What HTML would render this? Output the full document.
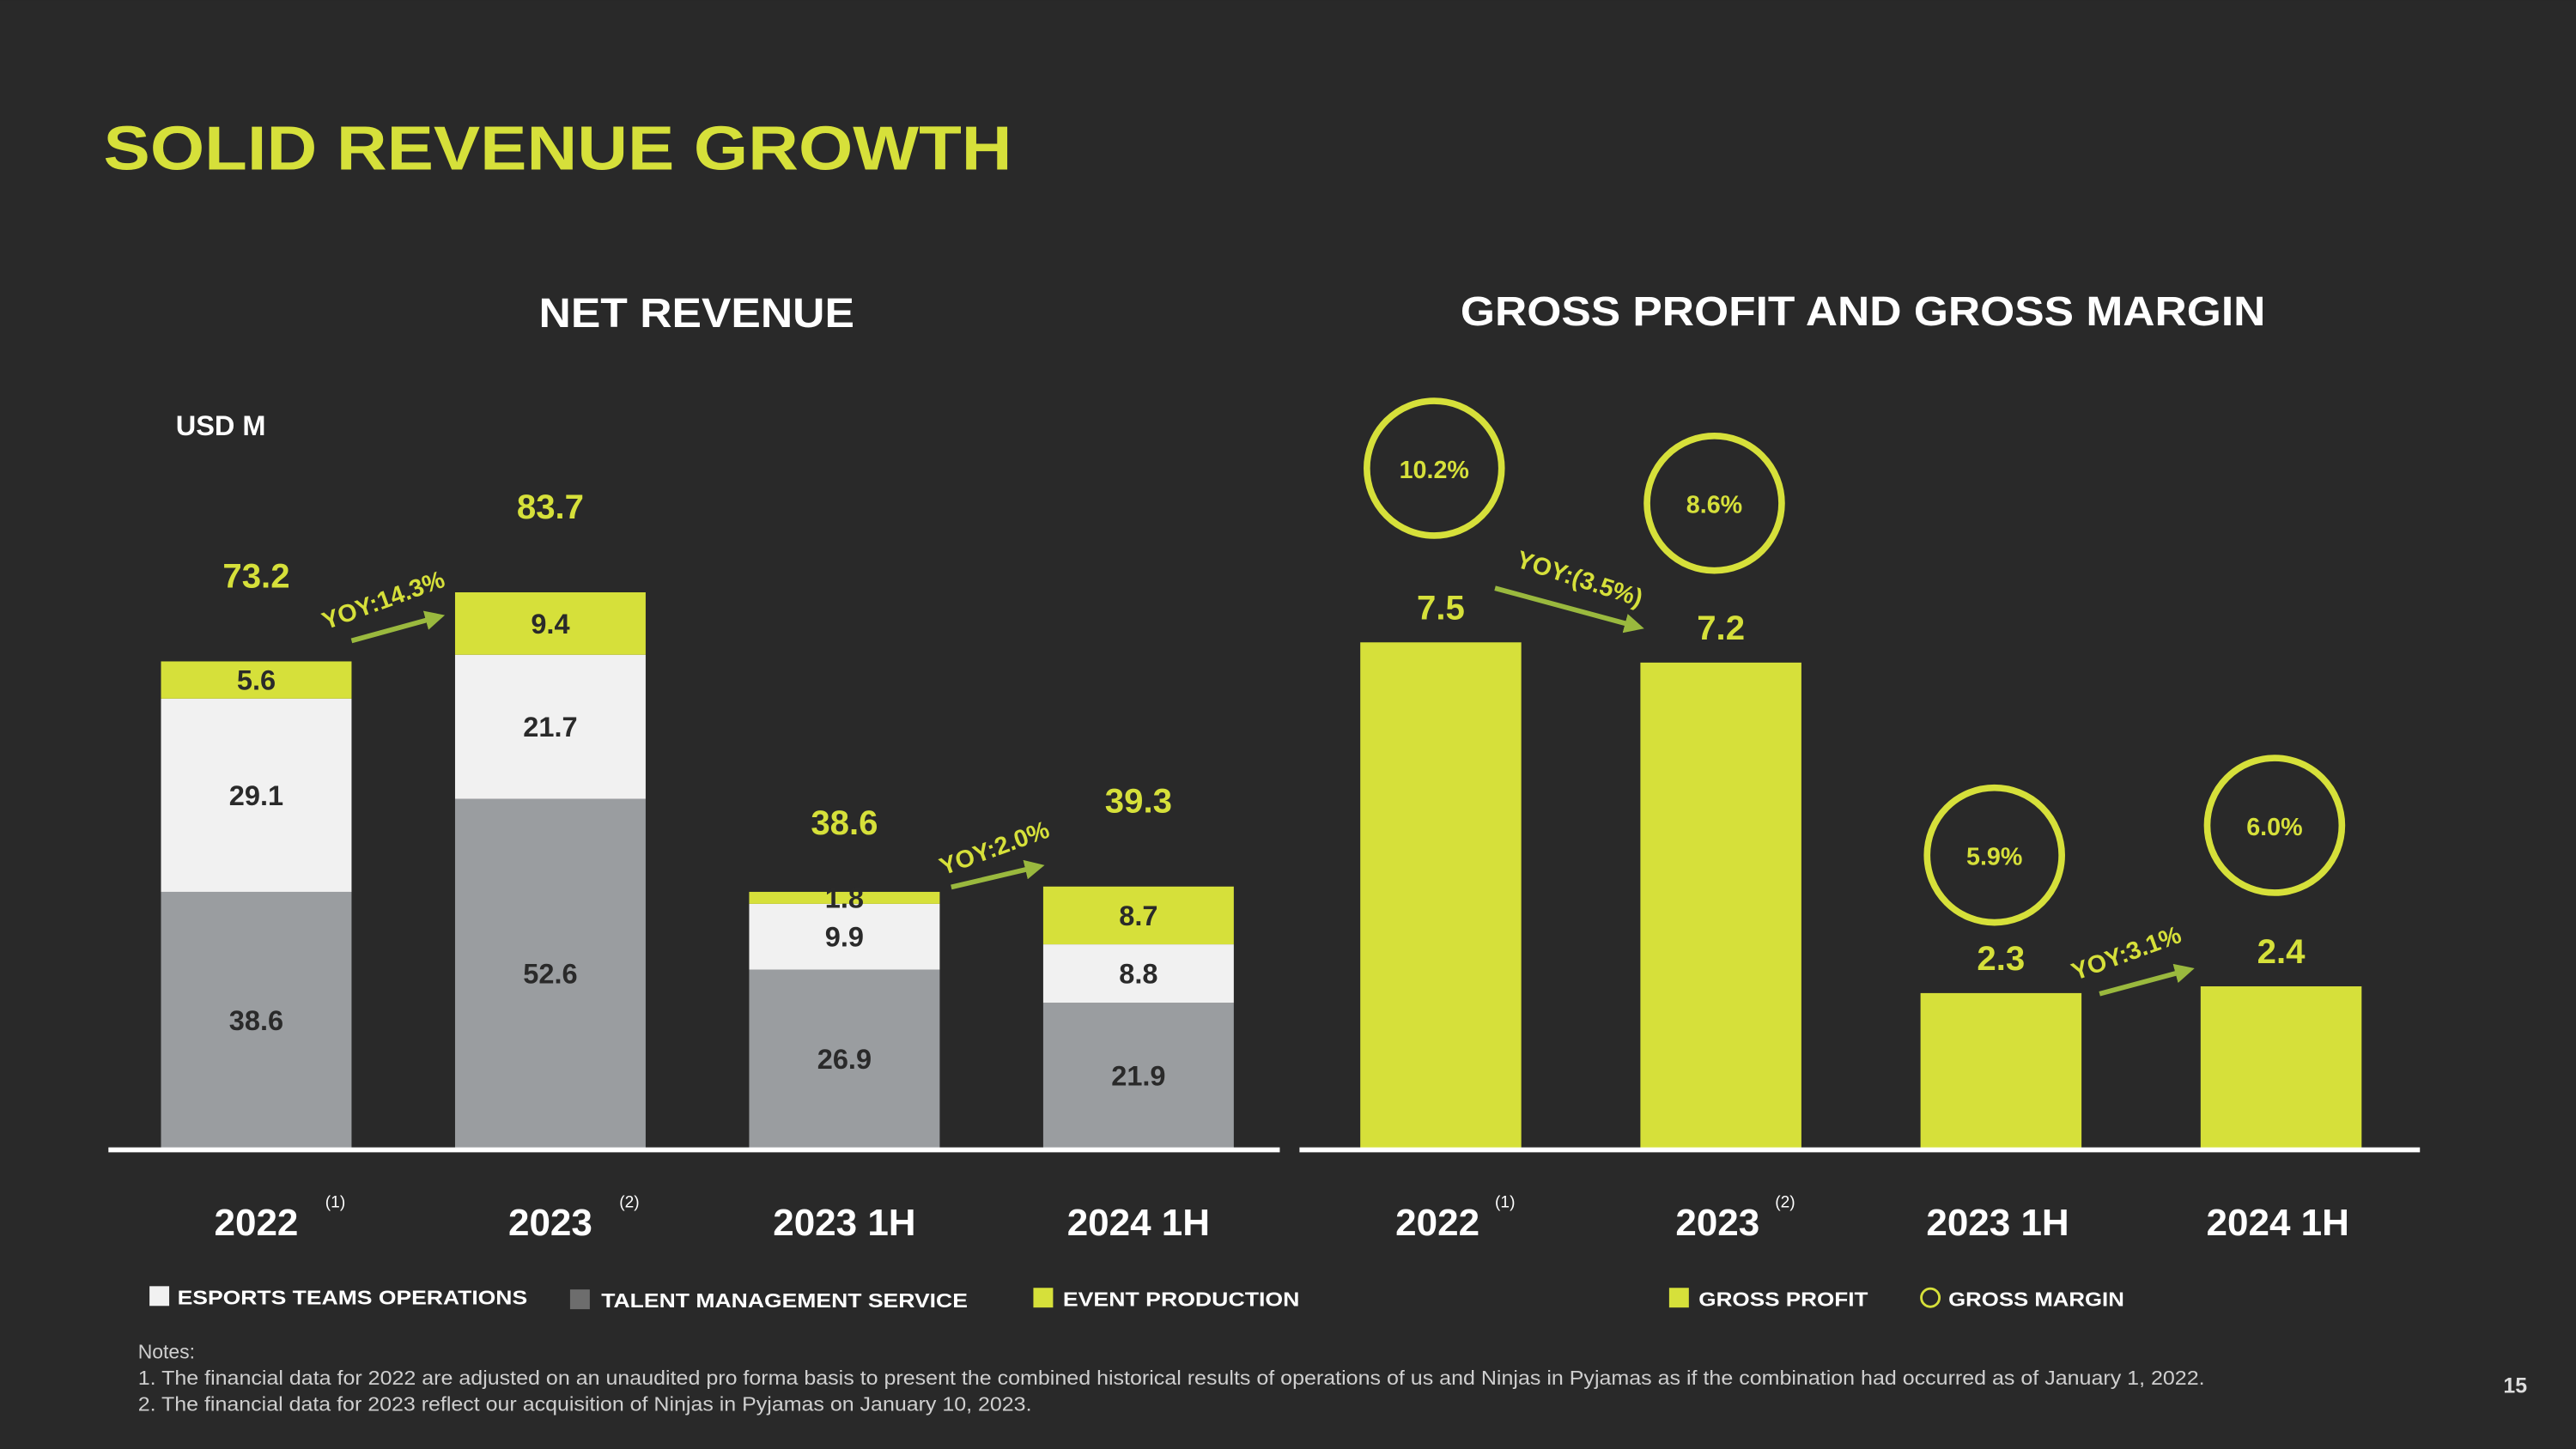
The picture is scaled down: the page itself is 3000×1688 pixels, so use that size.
<!DOCTYPE html>
<html><head><meta charset="utf-8"><style>
html,body{margin:0;padding:0;background:#292929;}
svg{display:block;font-family:"Liberation Sans",sans-serif;}
</style></head><body>
<svg id="s" width="3000" height="1688" viewBox="0 0 1568 882" xmlns="http://www.w3.org/2000/svg">
<rect width="1568" height="882" fill="#292929"/>
<text x="63" y="103" font-size="38" font-weight="bold" fill="#d6e03a" textLength="553" lengthAdjust="spacingAndGlyphs">SOLID REVENUE GROWTH</text>
<text x="328" y="199" font-size="25" font-weight="bold" fill="#fff" textLength="192" lengthAdjust="spacingAndGlyphs">NET REVENUE</text>
<text x="889" y="198" font-size="25" font-weight="bold" fill="#fff" textLength="490" lengthAdjust="spacingAndGlyphs">GROSS PROFIT AND GROSS MARGIN</text>
<text x="107" y="265" font-size="17" font-weight="bold" fill="#fff">USD M</text>
<g id="left"></g><g id="right"></g>
<line x1="66" y1="700" x2="779" y2="700" stroke="#fff" stroke-width="3"/>
<line x1="791" y1="700" x2="1473" y2="700" stroke="#fff" stroke-width="3"/>
<g font-size="12" fill="#fff" font-weight="bold">
<rect x="91" y="783" width="12" height="12" fill="#f1f1f1"/><text x="108" y="794" textLength="213" lengthAdjust="spacingAndGlyphs">ESPORTS TEAMS OPERATIONS</text>
<rect x="347" y="785" width="12" height="12" fill="#6d6d6d"/><text x="366" y="796" textLength="223" lengthAdjust="spacingAndGlyphs">TALENT MANAGEMENT SERVICE</text>
<rect x="629" y="784" width="12" height="12" fill="#d6e03a"/><text x="647" y="795" textLength="144" lengthAdjust="spacingAndGlyphs">EVENT PRODUCTION</text>
<rect x="1016" y="784" width="12" height="12" fill="#d6e03a"/><text x="1034" y="795" textLength="103" lengthAdjust="spacingAndGlyphs">GROSS PROFIT</text>
<circle cx="1175" cy="790" r="5.5" fill="none" stroke="#d6e03a" stroke-width="1.5"/><text x="1186" y="795" textLength="107" lengthAdjust="spacingAndGlyphs">GROSS MARGIN</text>
</g>
<g font-size="12" fill="#cfcfcf">
<text x="84" y="827">Notes:</text>
<text x="84" y="843" textLength="1258" lengthAdjust="spacingAndGlyphs">1. The financial data for 2022 are adjusted on an unaudited pro forma basis to present the combined historical results of operations of us and Ninjas in Pyjamas as if the combination had occurred as of January 1, 2022.</text>
<text x="84" y="859" textLength="544" lengthAdjust="spacingAndGlyphs">2. The financial data for 2023 reflect our acquisition of Ninjas in Pyjamas on January 10, 2023.</text>
</g>
<text x="1531" y="848" font-size="13" font-weight="bold" fill="#ddd" text-anchor="middle">15</text>
</svg>
<script>
const categories=["2022","2023","2023 1H","2024 1H"];
const catNotes=["(1)","(2)","",""];
const talent=[38.6,52.6,26.9,21.9];
const esports=[29.1,21.7,9.9,8.8];
const events=[5.6,9.4,1.8,8.7];
const totals=[73.2,83.7,38.6,39.3];
const grossProfit=[7.5,7.2,2.3,2.4];
const grossMargin=["10.2%","8.6%","5.9%","6.0%"];
const yoyLeft=["YOY:14.3%","YOY:2.0%"];
const yoyRight=["YOY:(3.5%)","YOY:3.1%"];
const NS="http://www.w3.org/2000/svg";
const Y="#d6e03a";
function mk(p,t,a,txt){const e=document.createElementNS(NS,t);for(const k in a)e.setAttribute(k,a[k]);if(txt!==undefined)e.textContent=txt;p.appendChild(e);return e;}
const base=699;
const lx=i=>98+i*179, lw=116, ly=v=>v*4.044;
const rx=i=>828+i*170.5, rw=98, ry=v=>v*41.07;
const circOff=[106,97,84,98];
const totOff=[45,45,35,45];
const L=document.getElementById('left'), R=document.getElementById('right');
categories.forEach((c,i)=>{
  const x=lx(i); let y=base;
  const segs=[[talent[i],"#9a9da0","talent"],[esports[i],"#f1f1f1","esports"],[events[i],Y,"event"]];
  segs.forEach(([v,col,n])=>{
    const h=ly(v); y-=h;
    const r=mk(L,'rect',{x:x,y:y,width:lw,height:h,fill:col});
    
    
    const t=mk(L,'text',{x:x+lw/2,y:y+h/2+6,'font-size':17,'font-weight':'bold',fill:'#2a2a2a','text-anchor':'middle'},String(v));
    
    
  });
  const tt=mk(L,'text',{x:x+lw/2,y:y-totOff[i],'font-size':21,'font-weight':'bold',fill:Y,'text-anchor':'middle'},String(totals[i]));
  
  
  const cl=mk(L,'text',{x:x+lw/2,y:752,'font-size':23,'font-weight':'bold',fill:'#fff','text-anchor':'middle'},c);
  
  
  if(catNotes[i]){const n=mk(L,'text',{x:x+lw/2+42,y:735,'font-size':10,fill:'#fff'},catNotes[i]);}
  const gx=rx(i), gh=ry(grossProfit[i]), gy=base-gh;
  const b=mk(R,'rect',{x:gx,y:gy,width:rw,height:gh,fill:Y});
  
  
  const gl=mk(R,'text',{x:gx+rw/2,y:gy-14,'font-size':21,'font-weight':'bold',fill:Y,'text-anchor':'middle'},String(grossProfit[i]));
  
  
  const cy=gy-circOff[i];
  const ci=mk(R,'circle',{cx:gx+rw/2-4,cy:cy,r:41,fill:'none',stroke:Y,'stroke-width':4});
  
  
  const ml=mk(R,'text',{x:gx+rw/2-4,y:cy+6,'font-size':15,'font-weight':'bold',fill:Y,'text-anchor':'middle'},grossMargin[i]);
  
  
  const cr=mk(R,'text',{x:gx+rw/2-2,y:752,'font-size':23,'font-weight':'bold',fill:'#fff','text-anchor':'middle'},c);
  
  
  if(catNotes[i]){const n=mk(R,'text',{x:gx+rw/2+33,y:735,'font-size':10,fill:'#fff'},catNotes[i]);}
});
const defs=mk(document.getElementById('s'),'defs',{});
const m=mk(defs,'marker',{id:'ah',markerWidth:4,markerHeight:4,refX:2,refY:2,orient:'auto'});
mk(m,'path',{d:'M0,0 L4,2 L0,4 z',fill:'#9ab93e'});
function yoy(g,x1,y1,x2,y2,txt,tx,ty,ang,n){
  const l=mk(g,'line',{x1:x1,y1:y1,x2:x2,y2:y2,stroke:'#9ab93e','stroke-width':3,'marker-end':'url(#ah)'});
  
  
  const t=mk(g,'text',{x:tx,y:ty,'font-size':15,'font-weight':'bold',fill:Y,'text-anchor':'middle',transform:`rotate(${ang} ${tx} ${ty})`},txt);
  
  
}
yoy(L,214,390,265,376,yoyLeft[0],235,370,-20,'2023');
yoy(L,579,540,630,528,yoyLeft[1],607,521,-20,'2024-1h');
yoy(R,910,358,995,381,yoyRight[0],960,357,18,'2023');
yoy(R,1278,605,1330,591,yoyRight[1],1296,585,-20,'2024-1h');
</script>
</body></html>
